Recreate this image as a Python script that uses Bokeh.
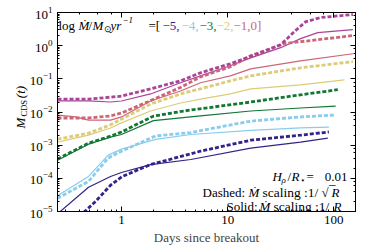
import math
from bokeh.plotting import figure
from bokeh.models import Label, LogAxis, Range1d, NumeralTickFormatter
from bokeh.embed import file_html
from bokeh.resources import INLINE

# ---- data (days since breakout, M_CDS) ----
colors = ["#332288", "#88CCEE", "#117733", "#DDCC77", "#CC6677", "#AA4499"]
mdot_labels = ["\u22125,", "\u22124,", "\u22123,", "\u22122,", "\u22121,0]"]

d_m5_dash = [0.25, 0.44, 0.57, 0.79, 1.02, 1.88, 5.56, 16.5, 48.6, 89.8]
v_m5_dash = [1.7e-6, 9.3e-6, 2.0e-5, 6.2e-5, 1.14e-4, 2.6e-4, 6.6e-4, 1.41e-3, 2.0e-3, 2.5e-3]
d_m5_sol = [0.25, 0.49, 0.79, 1.0, 1.88, 4.5, 16.5, 48.6, 87.8]
v_m5_sol = [8.5e-6, 5.4e-5, 1.14e-4, 1.5e-4, 2.6e-4, 3.7e-4, 8.1e-4, 1.23e-3, 1.62e-3]

d_m4_dash = [0.25, 0.49, 0.75, 1.0, 2.1, 4.5, 16.5, 48.6, 100]
v_m4_dash = [2.5e-5, 8.1e-5, 4.1e-4, 6.6e-4, 1.9e-3, 2.4e-3, 5.3e-3, 7.1e-3, 8.1e-3]
d_m4_sol = [0.25, 0.49, 0.75, 1.0, 2.1, 4.5, 16.5, 48.6, 89.8]
v_m4_sol = [3.0e-5, 1.14e-4, 5.0e-4, 7.6e-4, 1.5e-3, 2.1e-3, 2.8e-3, 3.3e-3, 3.5e-3]

d_m3_dash = [0.25, 0.49, 0.79, 1.0, 2.0, 3.84, 16.5, 48.6, 109]
v_m3_dash = [3.8e-4, 1.15e-3, 1.87e-3, 2.5e-3, 7.5e-3, 0.0107, 0.020, 0.033, 0.047]
d_m3_sol = [0.25, 0.49, 0.79, 1.0, 2.0, 5.56, 16.5, 48.6, 104]
v_m3_sol = [3.5e-4, 1.07e-3, 1.74e-3, 2.1e-3, 5.5e-3, 7.6e-3, 0.0107, 0.0132, 0.0151]

d_m2_dash = [0.25, 0.49, 0.79, 1.0, 1.88, 3.6, 5.56, 10.6, 16.5, 48.6, 151]
v_m2_dash = [1.51e-3, 2.3e-3, 4.1e-3, 6.1e-3, 0.0174, 0.035, 0.050, 0.087, 0.123, 0.215, 0.33]
d_m2_sol = [0.25, 0.49, 0.79, 1.0, 1.88, 3.6, 5.56, 10.6, 16.5, 48.6, 126]
v_m2_sol = [1.23e-3, 2.0e-3, 3.3e-3, 4.7e-3, 0.0107, 0.0187, 0.0245, 0.035, 0.050, 0.066, 0.093]

d_m1_dash = [0.25, 0.49, 0.79, 1.0, 1.88, 3.6, 5.56, 10.6, 16.5, 25.4, 33.8, 151]
v_m1_dash = [0.0066, 0.0066, 0.0076, 0.0093, 0.022, 0.055, 0.115, 0.231, 0.50, 0.81, 1.15, 2.01]
d_m1_sol = [0.25, 0.37, 0.49, 0.79, 1.0, 1.88, 3.6, 5.56, 10.6, 16.5, 48.6, 151]
v_m1_sol = [0.0081, 0.0071, 0.0057, 0.0057, 0.0071, 0.0215, 0.043, 0.076, 0.123, 0.20, 0.35, 0.57]

d_0_dash = [0.25, 0.49, 1.0, 1.88, 3.6, 5.56, 10.6, 20.4, 31.6, 43.6, 54.5, 75.5, 151]
v_0_dash = [0.0245, 0.0245, 0.030, 0.050, 0.087, 0.152, 0.285, 0.61, 1.07, 2.85, 5.3, 7.05, 8.7]
d_0_sol = [0.25, 0.49, 0.79, 1.0, 1.88, 3.6, 5.56, 10.6, 16.5, 31.6, 48.6, 70.6, 151]
v_0_sol = [0.0215, 0.0215, 0.020, 0.0215, 0.035, 0.076, 0.123, 0.248, 0.43, 0.87, 1.63, 2.48, 3.05]

dashed = [(d_m5_dash, v_m5_dash), (d_m4_dash, v_m4_dash), (d_m3_dash, v_m3_dash),
          (d_m2_dash, v_m2_dash), (d_m1_dash, v_m1_dash), (d_0_dash, v_0_dash)]
solid = [(d_m5_sol, v_m5_sol), (d_m4_sol, v_m4_sol), (d_m3_sol, v_m3_sol),
         (d_m2_sol, v_m2_sol), (d_m1_sol, v_m1_sol), (d_0_sol, v_0_sol)]

X0, X1 = 0.25, 160.0
Y0, Y1 = 1e-5, 10.0

FONT = "Liberation Serif"

p = figure(width=366, height=249, x_axis_type="log", y_axis_type="log",
           x_range=Range1d(X0, X1), y_range=Range1d(Y0, Y1),
           output_backend="svg", toolbar_location=None)
p.min_border_left = 57
p.min_border_right = 11
p.min_border_top = 12
p.min_border_bottom = 38
p.xgrid.visible = False
p.ygrid.visible = False
p.outline_line_color = "black"
p.outline_line_width = 1
p.background_fill_color = "white"
p.border_fill_color = "white"

for ax in (p.xaxis[0], p.yaxis[0]):
    ax.major_tick_in = 5
    ax.major_tick_out = 0
    ax.minor_tick_in = 2
    ax.minor_tick_out = 0
    ax.axis_line_color = "black"
    ax.major_label_text_font = FONT
    ax.major_label_text_font_size = "13px"
    ax.major_label_text_color = "black"
p.yaxis[0].major_label_standoff = 5
p.xaxis[0].major_label_standoff = 4
p.xaxis[0].formatter = NumeralTickFormatter(format="0")
p.xaxis[0].axis_label = "Days since breakout"
p.xaxis[0].axis_label_text_font = FONT
p.xaxis[0].axis_label_text_font_size = "13px"
p.xaxis[0].axis_label_text_font_style = "normal"
p.xaxis[0].axis_label_standoff = 3

top = LogAxis(major_tick_in=5, major_tick_out=0, minor_tick_in=2, minor_tick_out=0,
              major_label_text_font_size="1px", major_label_text_alpha=0.0,
              major_label_standoff=0)
right = LogAxis(major_tick_in=5, major_tick_out=0, minor_tick_in=2, minor_tick_out=0,
                major_label_text_font_size="1px", major_label_text_alpha=0.0,
                major_label_standoff=0)
p.add_layout(top, "above")
p.add_layout(right, "right")

for (d, v), c in zip(solid, colors):
    p.line(d, v, line_color=c, line_width=1.2)
for (d, v), c in zip(dashed, colors):
    p.line(d, v, line_color=c, line_width=2.8, line_dash="4 2", line_cap="butt")

# ---- text helpers: page pixel -> data coords ----
FL, FT, FW, FH = 57.0, 12.0, 298.0, 199.0
lx0, lx1 = math.log10(X0), math.log10(X1)
ly0, ly1 = math.log10(Y0), math.log10(Y1)


def dx(px):
    return 10 ** (lx0 + (px - FL) / FW * (lx1 - lx0))


def dy(py):
    return 10 ** (ly1 - (py - FT) / FH * (ly1 - ly0))


def txt(px, py, s, size=13, style="normal", color="black", angle=0.0,
        align="left", place="center"):
    lab = Label(x=dx(px), y=dy(py), text=s, text_font=FONT,
                text_font_size=f"{size}px", text_font_style=style,
                text_color=color, angle=angle, text_align=align,
                text_baseline="alphabetic")
    if place == "center":
        p.add_layout(lab)
    else:
        p.add_layout(lab, place)


# title line
BL = 25
txt(58, BL, "log")
txt(78, BL, "\u1e40", style="italic")
txt(88, BL, "/")
txt(92, BL, "M", style="italic")
txt(103, BL + 3, "\u2299", size=9)
txt(110, BL, "yr", style="italic")
txt(122, BL - 6, "\u22121", size=9, style="italic")
txt(148, BL, "=[")
xs = [162, 181, 199, 216, 233]
for x, s, c in zip(xs, mdot_labels, colors[:5]):
    txt(x, BL, s, color=c)

# annotation block (right aligned near x=347)
txt(272, 176, "H", style="italic")
txt(281, 179, "\u03c1", size=9, style="italic")
txt(287, 176, "/")
txt(291, 176, "R", style="italic")
txt(299, 179, "\u22c6", size=9)
txt(306, 176, "=")
txt(347, 176, "0.01", align="right")

txt(202, 192, "Dashed:")
txt(248, 192, "\u1e40", style="italic")
txt(262, 192, "scaling :1/", size=13.5)
txt(321, 192, "\u221a")
txt(331, 192, "R", style="italic")
txt(329, 193, "\u203e", size=17)

txt(226, 206, "Solid:")
txt(259, 206, "\u1e40", style="italic")
txt(273, 206, "scaling :1/", size=13.5)
txt(333, 206, "R", style="italic")

# y-axis label (rotated) in the left side panel
A = math.pi / 2
txt(20, 128, "M" + "\u00a0" * 6 + "(t)", style="italic", angle=A, place="left")
txt(23, 116, "CDS", size=8.5, angle=A, place="left")

open("out.html", "w").write(file_html(p, INLINE))
